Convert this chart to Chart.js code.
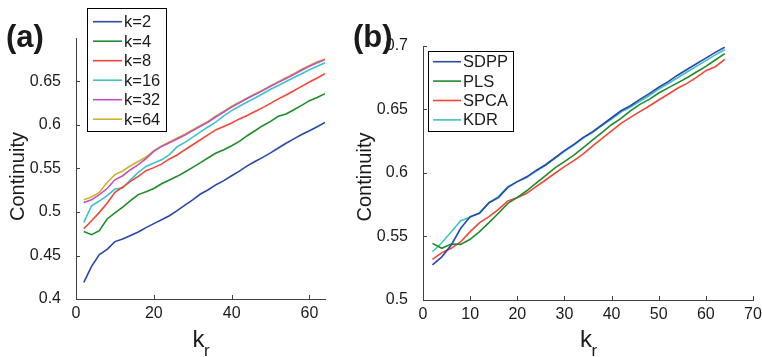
<!DOCTYPE html>
<html lang="en">
<head>
<meta charset="UTF-8">
<title>Continuity vs k_r</title>
<script src="https://cdn.jsdelivr.net/npm/chart.js"></script>
<style>
    html, body {
        margin: 0;
        padding: 0;
        background: #fff;
    }

    body {
        width: 762px;
        height: 357px;
        position: relative;
        overflow: hidden;
    }

    .panel {
        position: absolute;
        top: 0;
        height: 357px;
    }

    #panelA { left: 0; width: 340px; }
    #panelB { left: 340px; width: 422px; }
</style>
</head>
<body>
<div class="panel" id="panelA"><canvas id="chartA"></canvas></div>
<div class="panel" id="panelB"><canvas id="chartB"></canvas></div>

<script>
    // x values (neighbourhood size k_r)
    const kr = [2, 4, 6, 8, 10, 12, 14, 16, 18, 20, 22, 24, 26, 28, 30, 32,
                34, 36, 38, 40, 42, 44, 46, 48, 50, 52, 54, 56, 58, 60, 62, 64];

    // panel (a): continuity for different k
    const contK2  = [0.419, 0.4375, 0.451, 0.457, 0.466, 0.469, 0.473, 0.477, 0.482, 0.4866, 0.491, 0.4957, 0.5015, 0.508, 0.514, 0.5207,
                     0.5256, 0.5314, 0.536, 0.5417, 0.547, 0.553, 0.558, 0.5628, 0.568, 0.5735, 0.579, 0.584, 0.589, 0.5934, 0.598, 0.603];
    const contK4  = [0.4777, 0.474, 0.4785, 0.492, 0.4989, 0.5057, 0.513, 0.52, 0.5233, 0.527, 0.5325, 0.5368, 0.541, 0.546, 0.5513, 0.5567,
                     0.5624, 0.5678, 0.5716, 0.5762, 0.5812, 0.5877, 0.5934, 0.5992, 0.6042, 0.61, 0.6126, 0.6176, 0.6226, 0.628, 0.6317, 0.636];
    const contK8  = [0.4808, 0.49, 0.4996, 0.51, 0.5226, 0.5287, 0.5352, 0.541, 0.5475, 0.551, 0.555, 0.561, 0.5655, 0.5716, 0.5773, 0.583,
                     0.5889, 0.5946, 0.5984, 0.6023, 0.607, 0.611, 0.6156, 0.62, 0.6248, 0.63, 0.6345, 0.6394, 0.6444, 0.6494, 0.654, 0.659];
    const contK16 = [0.488, 0.5072, 0.5126, 0.5187, 0.5264, 0.5276, 0.537, 0.5455, 0.5524, 0.5563, 0.56, 0.566, 0.575, 0.58, 0.586, 0.592,
                     0.598, 0.6035, 0.6105, 0.6165, 0.6215, 0.6265, 0.631, 0.636, 0.641, 0.6455, 0.65, 0.6545, 0.659, 0.6635, 0.6675, 0.6715];
    const contK32 = [0.511, 0.514, 0.52, 0.527, 0.537, 0.5417, 0.5486, 0.5544, 0.5613, 0.5697, 0.5754, 0.5795, 0.584, 0.5885, 0.5935, 0.5985,
                     0.6035, 0.6095, 0.615, 0.6205, 0.6255, 0.6305, 0.635, 0.6395, 0.6445, 0.649, 0.6535, 0.658, 0.663, 0.6675, 0.6715, 0.675];
    const contK64 = [0.514, 0.5172, 0.5226, 0.534, 0.543, 0.5471, 0.5532, 0.558, 0.5632, 0.5705, 0.5758, 0.5805, 0.585, 0.5895, 0.5945, 0.5995,
                     0.6045, 0.6105, 0.616, 0.6215, 0.6262, 0.631, 0.6356, 0.6402, 0.645, 0.6497, 0.6543, 0.659, 0.664, 0.6685, 0.6728, 0.676];

    // panel (b): continuity per method
    const contSDPP = [0.5276, 0.534, 0.5433, 0.5565, 0.5656, 0.5683, 0.5766, 0.5806, 0.5887, 0.5932, 0.597, 0.602, 0.6065, 0.612, 0.6176, 0.6225,
                      0.628, 0.6325, 0.638, 0.6435, 0.649, 0.653, 0.658, 0.6625, 0.6675, 0.672, 0.677, 0.6815, 0.686, 0.6905, 0.695, 0.699];
    const contPLS  = [0.5446, 0.5407, 0.5441, 0.5438, 0.5478, 0.5538, 0.5609, 0.5683, 0.5761, 0.5808, 0.586, 0.592, 0.598, 0.604, 0.609, 0.614,
                      0.62, 0.626, 0.632, 0.638, 0.643, 0.649, 0.654, 0.658, 0.663, 0.667, 0.671, 0.675, 0.6795, 0.684, 0.689, 0.694];
    const contSPCA = [0.532, 0.5373, 0.5407, 0.5459, 0.5538, 0.5609, 0.5656, 0.5714, 0.578, 0.5806, 0.584, 0.5892, 0.5945, 0.5998, 0.605, 0.6097,
                      0.615, 0.6213, 0.6273, 0.6331, 0.6391, 0.6438, 0.6483, 0.6528, 0.6575, 0.662, 0.6667, 0.6706, 0.6753, 0.6806, 0.6837, 0.6895];
    const contKDR  = [0.538, 0.5451, 0.5538, 0.5625, 0.5651, 0.5688, 0.5766, 0.5814, 0.5892, 0.5932, 0.5965, 0.6015, 0.606, 0.6115, 0.617, 0.622,
                      0.6275, 0.632, 0.6375, 0.6425, 0.648, 0.652, 0.6565, 0.661, 0.666, 0.6705, 0.675, 0.6795, 0.684, 0.6885, 0.693, 0.697];

    const labelsA = ['k=2', 'k=4', 'k=8', 'k=16', 'k=32', 'k=64'];
    const labelsB = ['SDPP', 'PLS', 'SPCA', 'KDR'];

    // tick labels
    const xTicksA = [0, 20, 40, 60];
    const yTicksA = [0.4, 0.45, 0.5, 0.55, 0.6, 0.65];
    const xTicksB = [0, 10, 20, 30, 40, 50, 60, 70];
    const yTicksB = [0.5, 0.55, 0.6, 0.65, 0.7];

    const yTitle = 'Continuity';
    const xTitle = ['k', 'r'];   // k with subscript r

    const FONT = '"Liberation Sans", Arial, Helvetica, sans-serif';
    const TEXT = '#1a1a1a';
    const AXIS = '#404040';

    const colorsA = ['#2a48a8', '#1e8c2a', '#f2463a', '#3cc3c6', '#c050c8', '#cdb42a'];
    const colorsB = ['#2a48a8', '#1e8c2a', '#f2463a', '#3cc3c6'];

    Chart.defaults.font.family = FONT;
    Chart.defaults.color = TEXT;

    // matlab style extras: inward ticks, titles, panel letter, boxed legend
    const matlabAxes = {
        id: 'matlabAxes',
        afterDraw(chart, args, opts) {
            const ctx = chart.ctx;
            const area = chart.chartArea;
            const xs = chart.scales.x;
            const ys = chart.scales.y;
            ctx.save();

            ctx.strokeStyle = AXIS;
            ctx.lineWidth = 1;
            ctx.beginPath();
            xs.ticks.forEach(t => {
                const px = Math.round(xs.getPixelForValue(t.value)) + 0.5;
                ctx.moveTo(px, area.bottom);
                ctx.lineTo(px, area.bottom - 4);
            });
            ys.ticks.forEach(t => {
                const py = Math.round(ys.getPixelForValue(t.value)) + 0.5;
                ctx.moveTo(area.left, py);
                ctx.lineTo(area.left + 4, py);
            });
            ctx.stroke();

            ctx.fillStyle = TEXT;
            ctx.textAlign = 'left';
            ctx.textBaseline = 'alphabetic';
            ctx.font = 'bold 31px ' + FONT;
            ctx.fillText(opts.panel, opts.panelX, opts.panelY);

            // y title
            ctx.save();
            ctx.translate(opts.yTitleX, (area.top + area.bottom) / 2 + opts.yTitleShift);
            ctx.rotate(-Math.PI / 2);
            ctx.font = '20px ' + FONT;
            ctx.textAlign = 'center';
            ctx.textBaseline = 'middle';
            ctx.fillText(yTitle, 0, 0);
            ctx.restore();

            // x title k_r
            const cx = (area.left + area.right) / 2;
            ctx.font = '24px ' + FONT;
            ctx.fillText(xTitle[0], cx - 8, 347);
            ctx.font = '17px ' + FONT;
            ctx.fillText(xTitle[1], cx + 3.5, 356);

            // legend
            const lg = opts.legend;
            ctx.fillStyle = '#fff';
            ctx.fillRect(lg.x, lg.y, lg.w, lg.h);
            ctx.strokeStyle = '#000';
            ctx.lineWidth = 1;
            ctx.strokeRect(lg.x + 0.5, lg.y + 0.5, lg.w, lg.h);
            ctx.font = '16.5px ' + FONT;
            ctx.textBaseline = 'middle';
            chart.data.datasets.forEach((ds, i) => {
                const y = lg.row0 + i * lg.step;
                ctx.strokeStyle = ds.borderColor;
                ctx.lineWidth = 1.6;
                ctx.beginPath();
                ctx.moveTo(lg.lineX0, y);
                ctx.lineTo(lg.lineX1, y);
                ctx.stroke();
                ctx.fillStyle = TEXT;
                ctx.fillText(ds.label, lg.textX, y + 1);
            });

            ctx.restore();
        }
    };

    function makeDatasets(series, labels, colors) {
        return series.map((vals, i) => ({
            label: labels[i],
            data: kr.map((x, j) => ({ x: x, y: vals[j] })),
            borderColor: colors[i],
            backgroundColor: colors[i],
            borderWidth: 1.6,
            pointRadius: 0,
            tension: 0,
            fill: false
        }));
    }

    function makeOptions(cfg) {
        return {
            responsive: true,
            maintainAspectRatio: false,
            animation: false,
            layout: { padding: { left: 0, top: cfg.top, right: cfg.right, bottom: 0 } },
            plugins: {
                legend: { display: false },
                tooltip: { enabled: false },
                matlabAxes: cfg.extras
            },
            scales: {
                x: {
                    type: 'linear',
                    min: cfg.xMin,
                    max: cfg.xMax,
                    grid: { display: false },
                    border: { display: true, color: AXIS, width: 1 },
                    ticks: {
                        font: { size: 16 },
                        color: TEXT,
                        padding: -3,
                        maxRotation: 0,
                        callback: v => String(v)
                    },
                    afterBuildTicks: s => { s.ticks = cfg.xTicks.map(v => ({ value: v })); },
                    afterFit: s => { s.height = cfg.xHeight; }
                },
                y: {
                    type: 'linear',
                    min: cfg.yMin,
                    max: cfg.yMax,
                    grid: { display: false },
                    border: { display: true, color: AXIS, width: 1 },
                    ticks: {
                        font: { size: 16 },
                        color: TEXT,
                        padding: 7,
                        callback: v => String(v)
                    },
                    afterBuildTicks: s => { s.ticks = cfg.yTicks.map(v => ({ value: v })); },
                    afterFit: s => { s.width = cfg.yWidth; }
                }
            }
        };
    }

    new Chart(document.getElementById('chartA').getContext('2d'), {
        type: 'line',
        data: { datasets: makeDatasets([contK2, contK4, contK8, contK16, contK32, contK64], labelsA, colorsA) },
        options: makeOptions({
            top: 38, right: 15, xHeight: 58, yWidth: 76,
            xMin: 0, xMax: 64, yMin: 0.4, yMax: 0.7,
            xTicks: xTicksA, yTicks: yTicksA,
            extras: {
                panel: '(a)', panelX: 6, panelY: 47,
                yTitleX: 18, yTitleShift: 8,
                legend: { x: 87, y: 8, w: 79, h: 123, row0: 21.7, step: 19.5, lineX0: 93, lineX1: 122, textX: 124 }
            }
        }),
        plugins: [matlabAxes]
    });

    new Chart(document.getElementById('chartB').getContext('2d'), {
        type: 'line',
        data: { datasets: makeDatasets([contSDPP, contPLS, contSPCA, contKDR], labelsB, colorsB) },
        options: makeOptions({
            top: 46, right: 9, xHeight: 57, yWidth: 83,
            xMin: 0, xMax: 70, yMin: 0.5, yMax: 0.7,
            xTicks: xTicksB, yTicks: yTicksB,
            extras: {
                panel: '(b)', panelX: 13, panelY: 47,
                yTitleX: 25, yTitleShift: 4,
                legend: { x: 88, y: 51, w: 85, h: 80, row0: 61.7, step: 19.4, lineX0: 93, lineX1: 121, textX: 123 }
            }
        }),
        plugins: [matlabAxes]
    });
</script>
</body>
</html>
